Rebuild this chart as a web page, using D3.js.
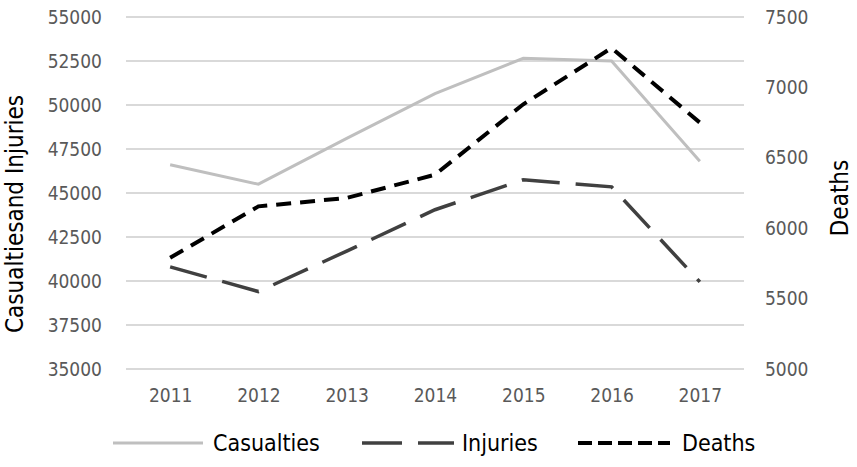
<!DOCTYPE html>
<html>
<head>
<meta charset="utf-8">
<script src="https://cdn.jsdelivr.net/npm/d3@7"></script>
<style>
  body { margin: 0; background: #fff; }
  text { font-family: "DejaVu Sans Condensed", "DejaVu Sans", sans-serif; font-stretch: condensed; }
</style>
</head>
<body>
<svg width="857" height="467"></svg>
<script>
// data
var years = ["2011", "2012", "2013", "2014", "2015", "2016", "2017"];
var casualties = [46600, 45500, 48100, 50650, 52650, 52500, 46800];
var injuries = [40800, 39400, 41700, 44050, 45750, 45350, 39950];
var deaths = [5790, 6155, 6215, 6380, 6880, 7280, 6750];
var leftTicks = [35000, 37500, 40000, 42500, 45000, 47500, 50000, 52500, 55000];
var rightTicks = [5000, 5500, 6000, 6500, 7000, 7500];

var svg = d3.select("svg"),
  margin = { top: 17, right: 113, bottom: 98, left: 126 },
  width = +svg.attr("width") - margin.left - margin.right,
  height = +svg.attr("height") - margin.top - margin.bottom,
  g = svg.append("g").attr("transform", "translate(" + margin.left + "," + margin.top + ")");

var x = d3.scalePoint().domain(years).range([0, width]).padding(0.5);
var yL = d3.scaleLinear().domain([35000, 55000]).range([height, 0]);
var yR = d3.scaleLinear().domain([5000, 7500]).range([height, 0]);

// gridlines
g.append("g")
  .selectAll("line")
  .data(leftTicks)
  .enter().append("line")
  .attr("x1", 0)
  .attr("x2", width)
  .attr("y1", function(d) { return yL(d); })
  .attr("y2", function(d) { return yL(d); })
  .attr("stroke", "#d9d9d9")
  .attr("stroke-width", 2);

// left axis
var axL = g.append("g")
  .call(d3.axisLeft(yL).tickValues(leftTicks).tickSize(0).tickPadding(24).tickFormat(d3.format("d")));
axL.select(".domain").remove();
axL.selectAll("text").attr("fill", "#595959").attr("font-size", 19);

// right axis
var axR = g.append("g")
  .attr("transform", "translate(" + width + ",0)")
  .call(d3.axisRight(yR).tickValues(rightTicks).tickSize(0).tickPadding(21).tickFormat(d3.format("d")));
axR.select(".domain").remove();
axR.selectAll("text").attr("fill", "#595959").attr("font-size", 19);

// bottom axis
var axB = g.append("g")
  .attr("transform", "translate(0," + height + ")")
  .call(d3.axisBottom(x).tickSize(0).tickPadding(20));
axB.select(".domain").remove();
axB.selectAll("text").attr("fill", "#595959").attr("font-size", 19);

// axis titles
svg.append("text")
  .attr("transform", "translate(23," + (margin.top + height / 2 + 21) + ") rotate(-90)")
  .attr("text-anchor", "middle")
  .attr("font-size", 24)
  .attr("fill", "#000")
  .text("Casualtiesand Injuries");

svg.append("text")
  .attr("transform", "translate(848," + (margin.top + height / 2 + 5) + ") rotate(-90)")
  .attr("text-anchor", "middle")
  .attr("font-size", 24)
  .attr("fill", "#000")
  .text("Deaths");

// lines
var series = [
  { name: "Casualties", values: casualties, scale: yL, color: "#bfbfbf", width: 3, dash: null },
  { name: "Injuries", values: injuries, scale: yL, color: "#404040", width: 3.5, dash: "38,16" },
  { name: "Deaths", values: deaths, scale: yR, color: "#000", width: 4, dash: "15,9" }
];

series.forEach(function(s) {
  var line = d3.line()
    .x(function(d, i) { return x(years[i]); })
    .y(function(d) { return s.scale(d); });
  g.append("path")
    .datum(s.values)
    .attr("fill", "none")
    .attr("stroke", s.color)
    .attr("stroke-width", s.width)
    .attr("stroke-dasharray", s.dash)
    .attr("d", line);
});

// legend
var legendX = [113, 362, 578];
var legendDash = [null, "40,16", "14,6"];
var legend = svg.append("g")
  .selectAll("g")
  .data(series)
  .enter().append("g")
  .attr("transform", function(d, i) { return "translate(" + legendX[i] + ",443)"; });

legend.append("line")
  .attr("x1", 0)
  .attr("x2", function(d, i) { return i == 0 ? 90 : 92; })
  .attr("stroke", function(d) { return d.color; })
  .attr("stroke-width", function(d) { return d.width; })
  .attr("stroke-dasharray", function(d, i) { return legendDash[i]; });

legend.append("text")
  .attr("x", function(d, i) { return i == 2 ? 104 : 100; })
  .attr("dy", "0.35em")
  .attr("font-size", 23)
  .attr("fill", "#000")
  .text(function(d) { return d.name; });
</script>
</body>
</html>
